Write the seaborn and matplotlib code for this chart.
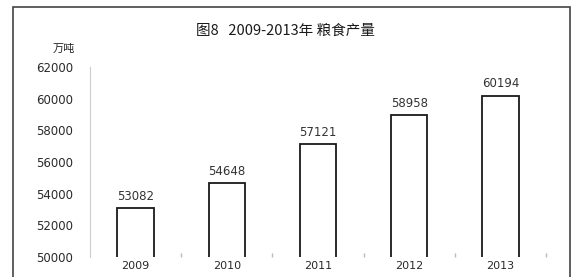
import matplotlib
matplotlib.use('Agg')
import matplotlib.pyplot as plt
import seaborn as sns
from matplotlib.patches import Rectangle

# Data
years = ['2009', '2010', '2011', '2012', '2013']
output = [53082, 54648, 57121, 58958, 60194]
yticks = [50000, 52000, 54000, 56000, 58000, 60000, 62000]

sns.set_style('white')
plt.rcParams['font.family'] = ['Noto Sans CJK SC', 'DejaVu Sans']

fig = plt.figure(figsize=(5.75, 2.77), dpi=100)
ax = fig.add_axes([90 / 575, 20 / 277, 456 / 575, 190 / 277])

sns.barplot(x=years, y=output, color='white', edgecolor='#1a1a1a',
            linewidth=1.3, width=0.4, ax=ax)

ax.set_ylim(50000, 62000)
ax.set_xlim(-0.5, 4.5)
ax.set_yticks(yticks)
ax.set_yticklabels([str(t) for t in yticks], fontsize=8.5, color='#2a2a2a',
                   family='DejaVu Sans')
ax.tick_params(axis='y', direction='in', length=3, color='#bbbbbb', pad=12)
ax.tick_params(axis='x', length=0, pad=3, labelsize=8, labelcolor='#2a2a2a')
for lbl in ax.get_xticklabels():
    lbl.set_family('DejaVu Sans')

for s in ['top', 'right']:
    ax.spines[s].set_visible(False)
ax.spines['left'].set_color('#cccccc')
ax.spines['left'].set_linewidth(0.8)
ax.spines['bottom'].set_visible(False)

ax.bar_label(ax.containers[0], labels=[str(v) for v in output], padding=4,
             fontsize=8.5, color='#333333', family='DejaVu Sans')

# small marks between categories
for xb in [0.5, 1.5, 2.5, 3.5, 4.5]:
    ax.plot(xb, 50100, marker='|', color='#bbbbbb', markersize=3, clip_on=False)

fig.text(285 / 575, 1 - 31 / 277, '图8   2009-2013年 粮食产量', ha='center',
         va='center', fontsize=10.5, color='#1a1a1a', fontweight='medium')
fig.text(64 / 575, 1 - 49 / 277, '万吨', ha='center', va='center',
         fontsize=8, color='#222222')

fig.patches.append(Rectangle((13 / 575, -0.05), (570 - 13) / 575, 1.05 - 7 / 277,
                             transform=fig.transFigure, fill=False,
                             edgecolor='#444444', linewidth=1.2))

fig.savefig('out.png', dpi=100)
